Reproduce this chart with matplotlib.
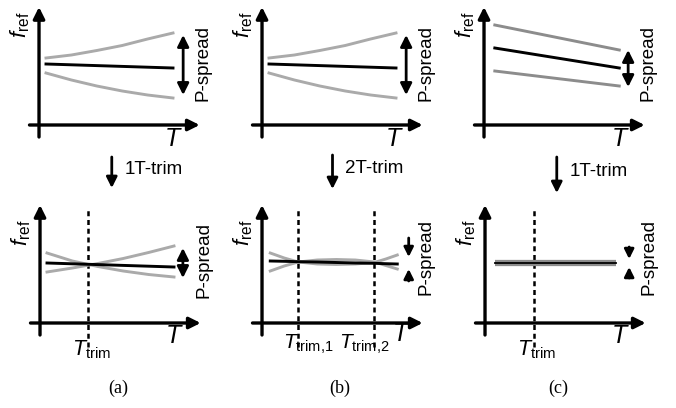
import matplotlib
matplotlib.use('Agg')
import matplotlib.pyplot as plt
import numpy as np

plt.rcParams['font.family'] = 'Liberation Sans'
plt.rcParams['mathtext.fontset'] = 'custom'
plt.rcParams['mathtext.rm'] = 'Liberation Sans'
plt.rcParams['mathtext.it'] = 'Liberation Sans:italic'

# Temperaturachse (normiert) und Kurvenwerte f_ref vor dem Trimmen
T_oben = [0, 2, 4, 6, 8, 10]
f_oben_mitte = [6.1, 6.02, 5.94, 5.86, 5.78, 5.7]
f_oben_hoch = [6.7, 7.0, 7.45, 7.95, 8.6, 9.2]
f_oben_tief = [5.2, 4.5, 3.9, 3.4, 3.0, 2.7]

# Fall (c): lineare Streuung
T_c = [0.3, 10.1]
f_c_hoch = [10.0, 7.5]
f_c_mitte = [7.7, 5.7]
f_c_tief = [5.4, 3.9]

# nach 1T-Trim (a)
T_trim_a = 3.2
f_a_mitte = [6.0, 5.92, 5.84, 5.76, 5.68, 5.6]
f_a_grau1 = [7.0, 6.2, 5.65, 5.2, 4.85, 4.6]
f_a_grau2 = [5.1, 5.5, 5.95, 6.45, 7.05, 7.7]

# nach 2T-Trim (b)
T_trim_b = [2.3, 8.3]
T_b = [0.1, 1.2, 2.3, 3.8, 5.3, 6.8, 8.3, 9.2, 10.1]
f_b_mitte = [6.2, 6.17, 6.13, 6.1, 6.05, 6.0, 5.97, 5.93, 5.9]
f_b_grau1 = [7.0, 6.5, 6.1, 5.9, 5.85, 5.9, 6.05, 6.4, 6.8]
f_b_grau2 = [5.2, 5.7, 6.1, 6.3, 6.35, 6.3, 6.1, 5.75, 5.4]

# nach 1T-Trim (c)
T_trim_c = 3.3
T_c_unten = [0.2, 9.8]
f_c_unten = [6.0, 6.0]

HELLGRAU = '#aaaaaa'
DUNKELGRAU = '#8c8c8c'
LW = 2.1

W, H = 676, 408
SX, SY = 12.7, 10.0
XLIM = (-2.6, 13.5)
YLIM = (-4.0, 12.5)

fig = plt.figure(figsize=(W / 100, H / 100), dpi=100)


def panel(ox, oy):
    links = ox + XLIM[0] * SX
    rechts = ox + XLIM[1] * SX
    oben = oy - YLIM[1] * SY
    unten = oy - YLIM[0] * SY
    ax = fig.add_axes([links / W, 1 - unten / H, (rechts - links) / W, (unten - oben) / H])
    ax.set_xlim(XLIM)
    ax.set_ylim(YLIM)
    ax.axis('off')
    return ax


def pfeil(ax, start, ende, stil='-|>', lw=2.0, ms=16):
    ax.annotate('', xy=ende, xytext=start, annotation_clip=False,
                arrowprops=dict(arrowstyle=stil, lw=lw, color='black',
                                mutation_scale=ms, shrinkA=0, shrinkB=0))


def achsen(ax, T_x=10.0, f_y=10.0, T_y=-1.4):
    pfeil(ax, (-0.55, -1.2), (-0.55, 11.8), lw=2.4, ms=17)
    pfeil(ax, (-1.3, 0), (12.1, 0), lw=2.4, ms=17)
    ax.text(T_x, T_y, '$T$', fontsize=18, ha='center', va='center')
    ax.text(-2.0, f_y, r'$f_{\mathrm{ref}}$', fontsize=16, rotation=90,
            ha='center', va='center')


def spread_text(ax, T, f):
    ax.text(T, f, 'P-spread', fontsize=13.5, rotation=90, ha='center', va='center')


def trim_linie(ax, T):
    ax.plot([T, T], [-2.4, 11.5], color='black', lw=1.8, ls=(0, (2, 1.5)), clip_on=False)


# obere Reihe
ax_a = panel(46, 125)
ax_b = panel(269, 125)
ax_c = panel(491, 125)

for ax in (ax_a, ax_b):
    ax.plot(T_oben, f_oben_hoch, color=HELLGRAU, lw=LW, clip_on=False)
    ax.plot(T_oben, f_oben_tief, color=HELLGRAU, lw=LW, clip_on=False)
    ax.plot(T_oben, f_oben_mitte, color='black', lw=LW, clip_on=False)
    pfeil(ax, (10.8, 3.0), (10.8, 9.0), stil='<|-|>', lw=2.0, ms=17)
    spread_text(ax, 12.4, 6.2)

ax_c.plot(T_c, f_c_hoch, color=DUNKELGRAU, lw=LW, clip_on=False)
ax_c.plot(T_c, f_c_tief, color=DUNKELGRAU, lw=LW, clip_on=False)
ax_c.plot(T_c, f_c_mitte, color='black', lw=LW, clip_on=False)
pfeil(ax_c, (10.8, 3.8), (10.8, 7.5), stil='<|-|>', lw=2.0, ms=17)
spread_text(ax_c, 12.4, 6.2)

achsen(ax_a, T_x=10.0)
achsen(ax_b, T_x=9.9)
achsen(ax_c, T_x=10.2)

# untere Reihe
ax_d = panel(47, 323)
ax_e = panel(269, 323)
ax_f = panel(492, 323)

# (a) 1T-Trim
trim_linie(ax_d, T_trim_a)
ax_d.plot(T_oben, f_a_grau1, color=HELLGRAU, lw=LW, clip_on=False)
ax_d.plot(T_oben, f_a_grau2, color=HELLGRAU, lw=LW, clip_on=False)
ax_d.plot(T_oben, f_a_mitte, color='black', lw=LW, clip_on=False)
pfeil(ax_d, (10.7, 4.5), (10.7, 7.5), stil='<|-|>', lw=2.0, ms=17)
spread_text(ax_d, 12.4, 6.3)
ax_d.text(3.5, -3.2, r'$T_{\mathrm{trim}}$', fontsize=15.5, ha='center', va='baseline')

# (b) 2T-Trim
for T in T_trim_b:
    trim_linie(ax_e, T)
ax_e.plot(T_b, f_b_grau1, color=HELLGRAU, lw=LW, clip_on=False)
ax_e.plot(T_b, f_b_grau2, color=HELLGRAU, lw=LW, clip_on=False)
ax_e.plot(T_b, f_b_mitte, color='black', lw=LW, clip_on=False)
pfeil(ax_e, (11.0, 8.5), (11.0, 6.6), lw=2.0, ms=14)
pfeil(ax_e, (11.0, 4.2), (11.0, 5.4), lw=2.0, ms=14)
spread_text(ax_e, 12.4, 6.6)
ax_e.text(3.1, -2.6, r'$T_{\mathrm{trim{,}1}}$', fontsize=15, ha='center', va='baseline')
ax_e.text(7.5, -2.6, r'$T_{\mathrm{trim{,}2}}$', fontsize=15, ha='center', va='baseline')

# (c) 1T-Trim
trim_linie(ax_f, T_trim_c)
ax_f.plot(T_c_unten, f_c_unten, color=DUNKELGRAU, lw=4.5, clip_on=False,
          solid_capstyle='butt')
ax_f.plot(T_c_unten, f_c_unten, color='black', lw=1.3, clip_on=False)
pfeil(ax_f, (10.8, 7.6), (10.8, 6.4), lw=2.0, ms=14)
pfeil(ax_f, (10.8, 4.5), (10.8, 5.6), lw=2.0, ms=14)
spread_text(ax_f, 12.4, 6.6)
ax_f.text(3.5, -3.2, r'$T_{\mathrm{trim}}$', fontsize=15.5, ha='center', va='baseline')

achsen(ax_d, T_x=10.0, f_y=9.0, T_y=-1.3)
achsen(ax_e, T_x=10.4, f_y=9.0, T_y=-1.1)
achsen(ax_f, T_x=10.1, f_y=9.0, T_y=-1.3)

# Pfeile zwischen den Reihen
for ax, x, y0, y1, text in ((ax_d, 5.1, 16.6, 13.5, '1T-trim'),
                            (ax_e, 5.0, 16.8, 13.4, '2T-trim'),
                            (ax_f, 5.1, 16.6, 13.0, '1T-trim')):
    pfeil(ax, (x, y0), (x, y1), lw=2.0, ms=16)
    ax.text(x + 1.0, (y0 + y1) / 2 + 0.3, text, fontsize=13.5, ha='left', va='center')

# Unterschriften
for x, t in ((118, '(a)'), (340, '(b)'), (558, '(c)')):
    fig.text(x / W, 1 - 388 / H, t, fontsize=13, family='Liberation Serif',
             ha='center', va='center')

fig.savefig('out.png', dpi=100)
